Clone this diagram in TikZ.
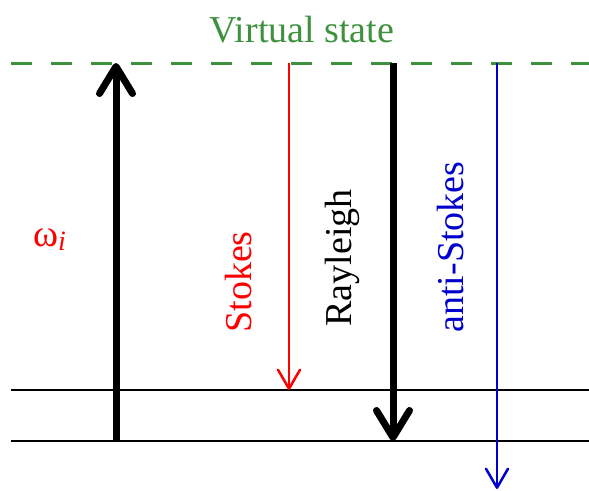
\documentclass[tikz,border=0pt]{standalone}
\usepackage{fontspec}
\setmainfont{Liberation Serif}
\usetikzlibrary{arrows.meta}
\definecolor{virtgreen}{RGB}{62,146,62}
\definecolor{asblue}{RGB}{0,0,205}

\begin{document}
\begin{tikzpicture}[x=1pt,y=-1pt,
    level/.style={line width=2.5pt},
    label/.style={font=\fontsize{38}{40}\selectfont,inner sep=0pt},
    fat/.style={line width=7pt,-{Straight Barb[length=27pt,width=33pt,round]}},
    thin/.style={line width=2.5pt,-{Straight Barb[length=19pt,width=22pt,round]}}]
      \useasboundingbox (0,0) rectangle (589,490);
      \draw
        (11,63) coordinate (v0) (589,63) coordinate (v1)
        (11,390) coordinate (e0) (589,390) coordinate (e1)
        (11,441) coordinate (g0) (589,441) coordinate (g1)
        (116,441) coordinate (pump0) (116,63) coordinate (pump1)
        (289,63) coordinate (st0) (289,390) coordinate (st1)
        (393,63) coordinate (ray0) (393,441) coordinate (ray1)
        (497,63) coordinate (as0) (497,489) coordinate (as1);
      \draw[virtgreen,line width=3pt,dash pattern=on 21pt off 19pt] (v0) -- (v1);
      \draw[level] (e0) -- (e1);
      \draw[level] (g0) -- (g1);
      \node[label,virtgreen,anchor=base] (vs) at (302,42) {Virtual state};
      \node[label,red,anchor=base west] (om) at (33,246)
        {ω\raisebox{-0.25ex}{\fontsize{28}{30}\selectfont\itshape i}};
      \begin{scope}[nodes={label,rotate=90}]
        \node[red] (stl) at (238,282) {Stokes};
        \node (rayl) at (342,258) {Rayleigh};
        \node[asblue] (asl) at (450,247) {anti-Stokes};
      \end{scope}
      \draw[fat] (pump0) -- (pump1);
      \draw[fat] (ray0) -- (ray1);
      \draw[thin,red] (st0) -- (st1);
      \draw[thin,asblue] (as0) -- (as1);
    \end{tikzpicture}
\end{document}
